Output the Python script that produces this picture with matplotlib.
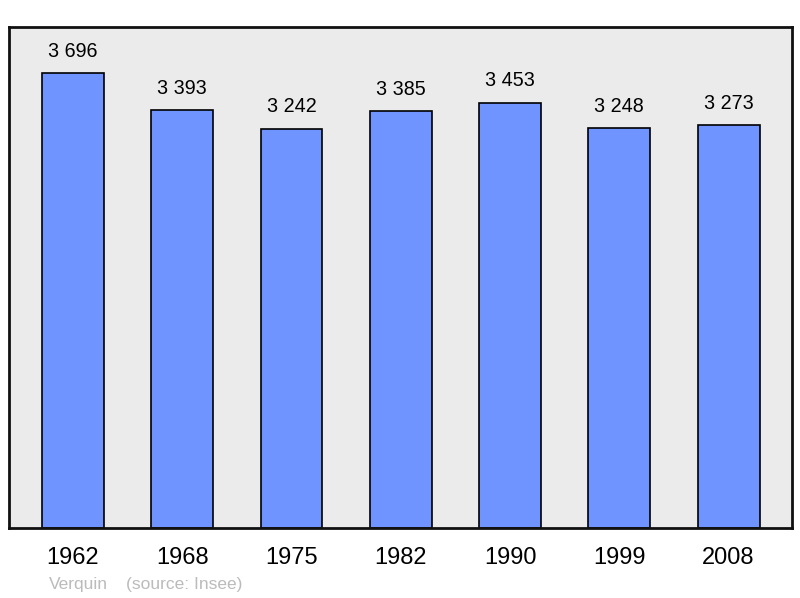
import matplotlib.pyplot as plt

plt.rcParams['font.family'] = ['Liberation Sans', 'DejaVu Sans']

years = ["1962", "1968", "1975", "1982", "1990", "1999", "2008"]
population = [3696, 3393, 3242, 3385, 3453, 3248, 3273]
labels = ["3 696", "3 393", "3 242", "3 385", "3 453", "3 248", "3 273"]

fig = plt.figure(figsize=(8, 5.98), dpi=100)
ax = fig.add_axes([9 / 800, 70 / 598, 783 / 800, 501 / 598])
ax.set_facecolor('#ebebeb')

x = list(range(len(years)))
ax.bar(x, population, width=0.567, color='#7094ff', edgecolor='black', linewidth=1.2, zorder=2)

for xi, v, lab in zip(x, population, labels):
    ax.annotate(lab, (xi, v), xytext=(0, 9), textcoords='offset points',
                ha='center', va='bottom', fontsize=14.2, color='black')

ax.set_xlim(-0.585, 6.58)
ax.set_ylim(0, 4070)
ax.set_xticks(x)
ax.set_xticklabels(years, fontsize=17)
ax.tick_params(axis='x', length=0, pad=14)
ax.set_yticks([])
for s in ax.spines.values():
    s.set_linewidth(2)
    s.set_color('#111111')

fig.text(49 / 800, 1 - 584 / 598, "Verquin", fontsize=12.5, color='#bbbbbb', va='center', ha='left')
fig.text(126 / 800, 1 - 584 / 598, "(source: Insee)", fontsize=12.5, color='#bbbbbb', va='center', ha='left')

fig.savefig('out.png', dpi=100)
